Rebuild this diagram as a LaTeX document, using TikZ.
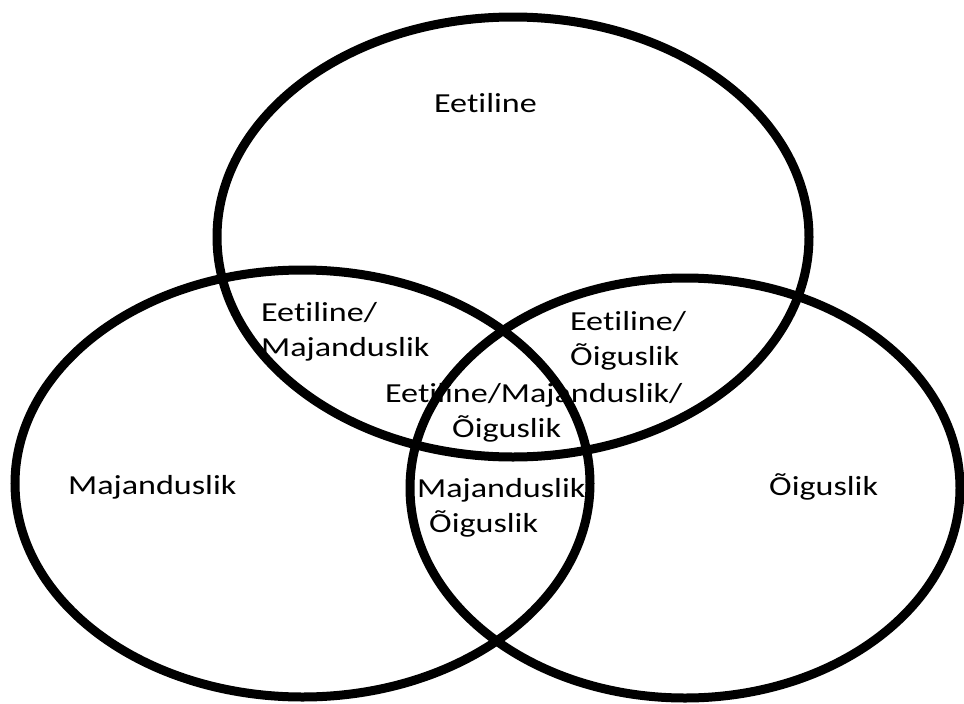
\documentclass[tikz,border=0pt]{standalone}
\usepackage{fontspec}
\setmainfont{Carlito}[FakeStretch=1.24, RawFeature={-liga;-clig;-dlig}]
\usetikzlibrary{shapes.geometric}
\begin{document}
\begin{tikzpicture}[x=1pt,y=-1pt,
  venn/.style={ellipse, draw=black, line width=9pt, inner sep=0pt, outer sep=0pt},
  lbl/.style={anchor=base west, inner sep=0pt, align=left, text=black, font=\fontsize{27.5}{34.5}\selectfont}]
\fill[white] (0,0) rectangle (964,704);
\useasboundingbox (0,0) rectangle (964,704);
% labels (drawn first, the circles lie over them); base = last line
\node[lbl] (tE) at (434,112) {Eetiline};
\node[lbl] (tM) at (68,494) {Majanduslik};
\node[lbl] (tO) at (769,495) {Õiguslik};
\node[lbl] (tEM) at (261,356) {Eetiline/\\Majanduslik};
\node[lbl] (tEO) at (570,365) {Eetiline/\\Õiguslik};
\node[lbl] (tEMO) at (385,437) {Eetiline/Majanduslik/\\\hspace*{67pt}Õiguslik};
\node[lbl] (tMO) at (417,532) {Majanduslik\\\hspace*{12pt}Õiguslik};
% circles
\node[venn, minimum width=592pt, minimum height=440pt] (E) at (513,237) {};
\node[venn, minimum width=575pt, minimum height=427pt] (M) at (302.5,483.5) {};
\node[venn, minimum width=550pt, minimum height=420pt] (O) at (685,488) {};
\end{tikzpicture}
\end{document}
